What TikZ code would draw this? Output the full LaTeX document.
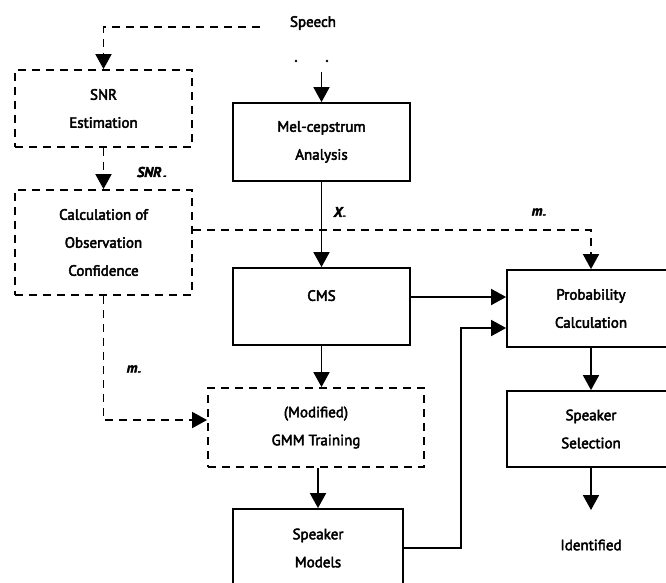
\documentclass[tikz,border=0pt]{standalone}
\usepackage{fontspec}
\setmainfont{PT Sans}[FakeBold=3]
\usetikzlibrary{arrows.meta}

\begin{document}
\begin{tikzpicture}[x=1pt,y=-1pt,font=\fontsize{15}{28}\selectfont,>={Triangle[length=15pt,width=16pt]},
 blk/.style={draw,line width=1.8pt,align=center,inner sep=0pt},
 dblk/.style={blk,dash pattern=on 8pt off 6pt},
 link/.style={line width=1.8pt,->},
 dlink/.style={link,dash pattern=on 8pt off 6pt},
 lbl/.style={font=\fontsize{14}{15}\selectfont\bfseries\itshape}]
\useasboundingbox (0,0) rectangle (666,582);
\node (speech) at (313,23) {Speech};
\node[dblk,minimum width=177pt,minimum height=77pt] (snr) at (103.5,108.5) {SNR\\Estimation};
\node[dblk,minimum width=177pt,minimum height=105pt] (calc) at (103.5,242.5) {Calculation of\\Observation\\Confidence};
\node[blk,minimum width=177pt,minimum height=78pt] (mel) at (321.5,142) {Mel-cepstrum\\Analysis};
\node[blk,minimum width=177pt,minimum height=77pt,text depth=22pt] (cms) at (321.5,306.5) {CMS};
\node[blk,minimum width=168pt,minimum height=77pt] (prob) at (591,308.5) {Probability\\Calculation};
\node[dblk,minimum width=216pt,minimum height=79pt] (gmm) at (316,427.5) {(Modified)\\GMM Training};
\node[blk,minimum width=170pt,minimum height=78pt] (models) at (318,548) {Speaker\\Models};
\node[blk,minimum width=168pt,minimum height=76pt] (sel) at (591,429) {Speaker\\Selection};
\node (ident) at (591,545) {Identified};
% stray marks above the analysis block
\fill (296,61) circle (1.3pt) (327,61) circle (1.3pt);
\coordinate (sp) at (260,27);
\coordinate (in) at (321.5,72);
\coordinate (out) at (591,510);
\draw[dlink] (sp) -| (snr.north);
\draw[link] (in) -- (mel.north);
\draw[dlink] (snr.south) -- (calc.north);
\node[lbl] (snrlbl) at (152,173) {SNR\textsubscript{\,-}};
\draw[dlink] (calc.east |- 0,230) -| (prob.north);
\node[lbl] (mtop) at (539,213) {m\textsubscript{-}};
\draw[dlink] (calc.south) |- ([yshift=7.5pt]gmm.west);
\node[lbl] (mleft) at (134,370) {m\textsubscript{-}};
\draw[link] (mel.south) -- (cms.north);
\node[lbl] (xlbl) at (340,213) {X\textsubscript{-}};
\draw[link] (cms.east |- 0,297) -- (prob.west |- 0,297);
\draw[link] (cms.south) -- (cms.south |- gmm.north);
\draw[link] (gmm.south -| models.north) -- (models.north);
\draw[link] (models.east) -- ++(57,0) |- (prob.west |- 0,328);
\draw[link] (prob.south) -- (sel.north);
\draw[link] (sel.south) -- (out);
\end{tikzpicture}
\end{document}
